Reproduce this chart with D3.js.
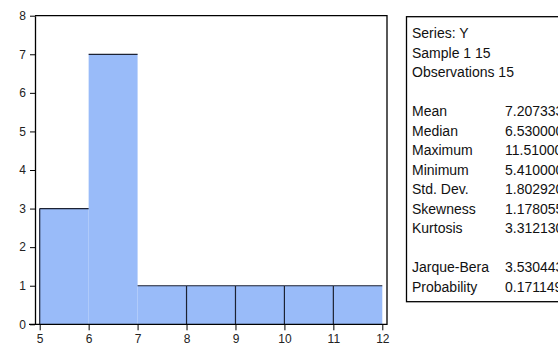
<!DOCTYPE html>
<html>
<head>
<meta charset="utf-8">
<script src="https://cdn.jsdelivr.net/npm/d3@7"></script>
<style>
  body { margin: 0; background: #fff; }
  svg { display: block; font-family: "Liberation Sans", Arial, sans-serif; }
</style>
</head>
<body>
<div id="chart"></div>
<script>
// histogram bins (left edge) and counts
const binStarts = [5, 6, 7, 8, 9, 10, 11];
const counts = [3, 7, 1, 1, 1, 1, 1];
const xTicks = [5, 6, 7, 8, 9, 10, 11, 12];
const yTicks = [0, 1, 2, 3, 4, 5, 6, 7, 8];

// descriptive statistics box
const headerLines = ["Series: Y", "Sample 1 15", "Observations 15"];
const statNames = ["Mean", "Median", "Maximum", "Minimum", "Std. Dev.", "Skewness", "Kurtosis"];
const statValues = ["7.207333", "6.530000", "11.51000", "5.410000", "1.802920", "1.178055", "3.312130"];
const testNames = ["Jarque-Bera", "Probability"];
const testValues = ["3.530443", "0.171149"];

const width = 558,
      height = 347;

const plotLeft = 35, plotRight = 387, plotTop = 15.7, plotBottom = 324.3;

const x = d3.scaleLinear().domain([5, 12]).range([39.7, 382.3]);
const y = d3.scaleLinear().domain([0, 8]).range([plotBottom, plotTop]);

const svg = d3.select("#chart")
  .append("svg")
  .attr("width", width)
  .attr("height", height);

const bins = binStarts.map((s, i) => ({x0: s, x1: s + 1, n: counts[i], prev: i ? counts[i - 1] : null}));

// bars
svg.append("g")
  .selectAll("rect")
  .data(bins)
  .join("rect")
  .attr("x", d => x(d.x0))
  .attr("y", d => y(d.n))
  .attr("width", d => x(d.x1) - x(d.x0))
  .attr("height", d => y(0) - y(d.n))
  .attr("fill", "#99bbf9");

// bar tops
svg.append("g")
  .attr("stroke", "#1c2233")
  .attr("stroke-width", 1.2)
  .selectAll("line")
  .data(bins)
  .join("line")
  .attr("x1", d => x(d.x0))
  .attr("x2", d => x(d.x1))
  .attr("y1", d => y(d.n))
  .attr("y2", d => y(d.n));

// left edges that show in the original (first bar and between equal bars)
svg.append("g")
  .attr("stroke", "#1c2233")
  .attr("stroke-width", 1.2)
  .selectAll("line")
  .data(bins.filter(d => d.prev === null || d.prev === d.n))
  .join("line")
  .attr("x1", d => x(d.x0))
  .attr("x2", d => x(d.x0))
  .attr("y1", d => y(d.n))
  .attr("y2", y(0));

// frame
svg.append("path")
  .attr("fill", "none")
  .attr("stroke", "#000")
  .attr("stroke-width", 1.3)
  .attr("d", `M${plotLeft},${plotTop}H${plotRight}V${plotBottom}H${plotLeft - 6}`);

// y axis
const yAxis = svg.append("g")
  .attr("transform", `translate(${plotLeft},0)`)
  .call(d3.axisLeft(y).tickValues(yTicks).tickFormat(d3.format("d")).tickSize(5).tickSizeOuter(0).tickPadding(4));
yAxis.select(".domain").attr("stroke-width", 1.3);
yAxis.selectAll("text").attr("font-size", 12).attr("font-family", "Liberation Sans, Arial, sans-serif").attr("fill", "#222");

// x axis
const xAxis = svg.append("g")
  .attr("transform", `translate(0,${plotBottom})`)
  .call(d3.axisBottom(x).tickValues(xTicks).tickFormat(d3.format("d")).tickSize(6).tickPadding(4));
xAxis.select(".domain").remove();
xAxis.selectAll("text").attr("font-size", 12).attr("font-family", "Liberation Sans, Arial, sans-serif").attr("fill", "#222");

// stats box
const boxLeft = 406.5, boxTop = 16.7, boxBottom = 301.7;
svg.append("rect")
  .attr("x", boxLeft)
  .attr("y", boxTop)
  .attr("width", 200)
  .attr("height", boxBottom - boxTop)
  .attr("fill", "none")
  .attr("stroke", "#000")
  .attr("stroke-width", 1.3);

const rowStep = 19.5, firstRow = 38;
const rows = [];
headerLines.forEach((t, i) => rows.push({label: t, value: "", row: i}));
statNames.forEach((t, i) => rows.push({label: t, value: statValues[i], row: 4 + i}));
testNames.forEach((t, i) => rows.push({label: t, value: testValues[i], row: 12 + i}));

const txt = svg.append("g")
  .attr("font-size", 14)
  .attr("fill", "#111");

txt.selectAll("text.lbl")
  .data(rows)
  .join("text")
  .attr("class", "lbl")
  .attr("x", 412)
  .attr("y", d => firstRow + d.row * rowStep)
  .text(d => d.label);

txt.selectAll("text.val")
  .data(rows.filter(d => d.value))
  .join("text")
  .attr("class", "val")
  .attr("x", 505)
  .attr("y", d => firstRow + d.row * rowStep)
  .text(d => d.value);
</script>
</body>
</html>
